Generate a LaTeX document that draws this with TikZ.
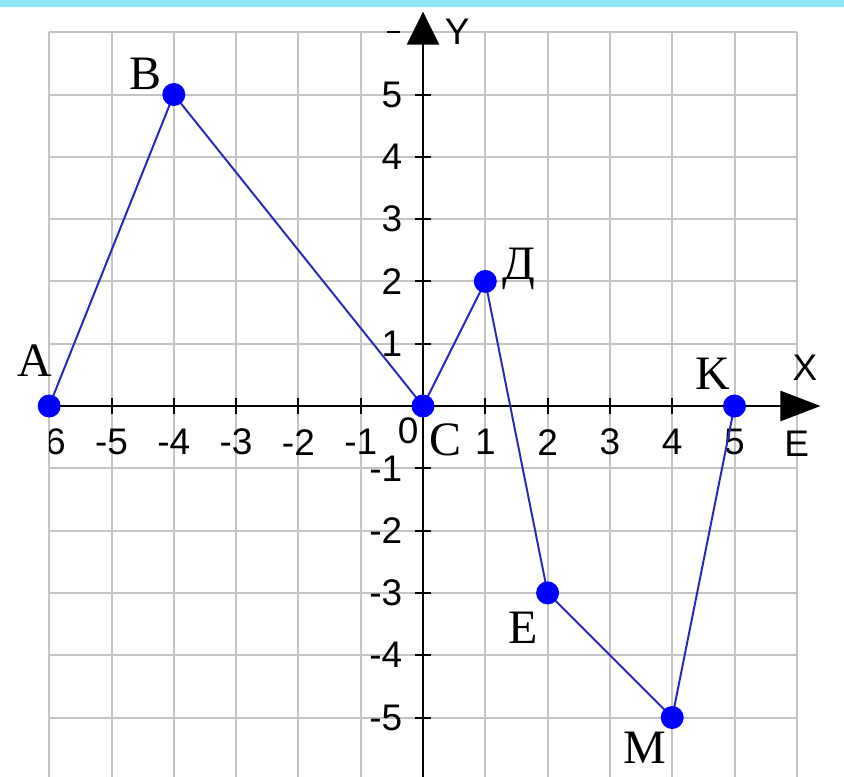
\documentclass[tikz,border=0pt]{standalone}
\usepackage{fontspec}
\setmainfont{Liberation Serif}
\newfontfamily\axisfont{Liberation Sans}
\usetikzlibrary{arrows.meta}
\definecolor{topbar}{HTML}{8EE9F7}
\definecolor{gridgray}{HTML}{C4C4C4}
\definecolor{linkblue}{HTML}{2A2AB8}
\definecolor{dotblue}{HTML}{0000FF}
\tikzset{
  gridline/.style={draw=gridgray,line width=2pt},
  axisline/.style={draw=black,line width=2.4pt},
  tickline/.style={draw=black,line width=2pt},
  polyline/.style={draw=linkblue,line width=2pt,line join=round},
  ptdot/.style={circle,fill=dotblue,inner sep=0pt,minimum size=23pt},
  ptlabel/.style={font=\fontsize{48}{48}\selectfont,inner sep=0pt},
  numlabel/.style={font=\axisfont\fontsize{37}{37}\selectfont,inner sep=0pt},
}
\begin{document}
\begin{tikzpicture}[x=1pt,y=-1pt]
\useasboundingbox (0,0) rectangle (844,777);
\fill[white] (0,0) rectangle (844,777);
\fill[topbar] (0,0) rectangle (844,7);
\clip (0,0) rectangle (844,777);
\begin{scope}[shift={(423,406)},x=62.3pt,y=62.3pt]
  % grid
  \foreach \i in {-6,...,6}{
    \draw[gridline] (\i,-6.3) -- (\i,6);
  }
  \foreach \j in {-6,...,6}{
    \draw[gridline] (-6,\j) -- (6,\j);
  }
  % axes
  \coordinate (xstart) at (-6,0);
  \coordinate (xend) at (6.38,0);
  \coordinate (ystart) at (0,-6.3);
  \coordinate (yend) at (0,6.33);
  \draw[axisline,-{Triangle[length=40pt,width=30pt]}] (xstart) -- (xend);
  \draw[axisline,-{Triangle[length=33pt,width=32pt]}] (ystart) -- (yend);
  % ticks
  \foreach \i in {-5,...,-1,1,2,...,5}{
    \draw[tickline] (\i,-0.13) -- (\i,0.13);
    \draw[tickline] (-0.13,\i) -- (0.13,\i);
  }
  \draw[tickline] (-0.58,6) -- (-0.37,6);
  % x-axis numbers
  \foreach \i in {-5,-4,-3,-2,-1,1,2,3,4,5}{
    \node[numlabel] (xl\i) at (\i,-0.58) {\i};
  }
  \node[numlabel] (xl0) at (-0.24,-0.39) {0};
  \begin{scope}
    \clip (-6,-1) rectangle (-5,0);
    \node[numlabel] (xlm6) at (-6,-0.58) {-6};
  \end{scope}
  \node[numlabel] (xl6) at (6,-0.6) {E};
  % y-axis numbers
  \foreach \j in {-5,-4,-3,-2,-1,1,2,3,4,5}{
    \node[numlabel,anchor=east] (yl\j) at (-0.33,\j) {\j};
  }
  % axis names
  \node[numlabel] (xname) at (6.13,0.62) {X};
  \node[numlabel] (yname) at (0.55,6.0) {Y};
  % points
  \coordinate (A) at (-6,0);
  \coordinate (B) at (-4,5);
  \coordinate (C) at (0,0);
  \coordinate (D) at (1,2);
  \coordinate (E) at (2,-3);
  \coordinate (M) at (4,-5);
  \coordinate (K) at (5,0);
  \draw[polyline] (A) -- (B) -- (C) -- (D) -- (E) -- (M) -- (K);
  \foreach \p in {A,B,C,D,E,M,K}{
    \node[ptdot] (dot\p) at (\p) {};
  }
  % point labels
  \node[ptlabel] (lA) at (-6.23,0.72) {A};
  \node[ptlabel] (lB) at (-4.45,5.33) {B};
  \node[ptlabel] (lC) at (0.36,-0.55) {C};
  \node[ptlabel] (lD) at (1.54,2.2) {Д};
  \node[ptlabel] (lE) at (1.6,-3.56) {E};
  \node[ptlabel] (lM) at (3.56,-5.49) {M};
  \node[ptlabel] (lK) at (4.66,0.52) {K};
\end{scope}
\end{tikzpicture}
\end{document}
